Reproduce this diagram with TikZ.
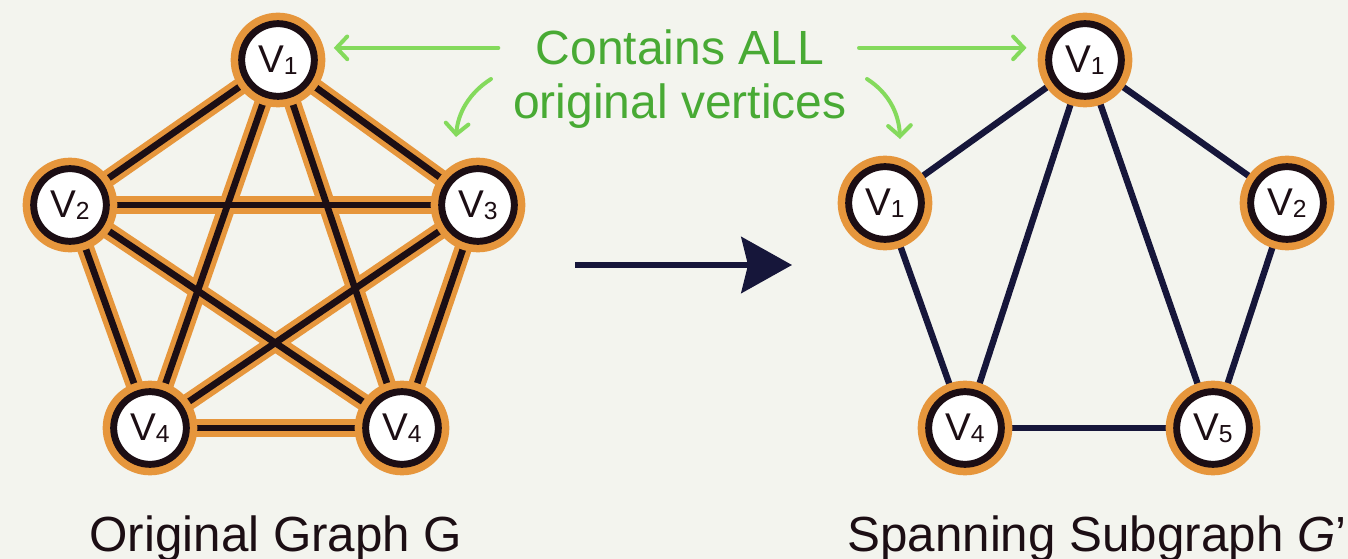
\documentclass[tikz,border=0pt]{standalone}
\usepackage{fontspec}
\setmainfont{Liberation Sans}
\usetikzlibrary{arrows.meta}

\definecolor{paper}{RGB}{243,244,238}
\definecolor{ring}{RGB}{230,150,60}
\definecolor{ink}{RGB}{28,14,20}
\definecolor{navy}{RGB}{22,22,58}
\definecolor{gtext}{RGB}{72,170,52}
\definecolor{garrow}{RGB}{132,218,92}

% vertex label: V with a slightly lowered index
\newcommand{\vlab}[1]{V\kern-0.01em\raisebox{-0.06em}{\fontsize{18.5}{18.5}\selectfont #1}}

\pgfdeclarelayer{back}
\pgfdeclarelayer{edges}
\pgfsetlayers{back,edges,main}

\tikzset{
  vert/.style={circle, minimum size=54.5pt, inner sep=0pt, fill=white,
    draw=ink, line width=5.2pt, preaction={draw=ring, line width=16.5pt},
    font=\fontsize{29}{29}\selectfont, text=ink},
  bandedge/.style={ring, line width=13pt},
  coreedge/.style={ink, line width=5pt},
  subedge/.style={navy, line width=4.8pt},
  garr/.style={garrow, line width=3pt, line cap=round,
    -{Straight Barb[length=8pt,width=17pt,line cap=round]}},
  gtxt/.style={text=gtext, inner sep=0pt, font=\fontsize{36}{36}\selectfont},
  caption/.style={text=ink, inner sep=0pt, font=\fontsize{37}{37}\selectfont},
}

\begin{document}
\begin{tikzpicture}[x=0.75pt,y=-0.75pt]
\begin{pgfonlayer}{back}
  \fill[paper] (0,0) rectangle (1348,559);
\end{pgfonlayer}
\useasboundingbox (0,0) rectangle (1348,559);

% ---- original graph G (complete graph on five vertices)
\node[vert] (a1) at (278,60)  {\vlab{1}};
\node[vert] (a2) at (70,205)  {\vlab{2}};
\node[vert] (a3) at (478,205) {\vlab{3}};
\node[vert] (a4) at (150,428) {\vlab{4}};
\node[vert] (a5) at (402,428) {\vlab{4}};

\begin{pgfonlayer}{edges}
  \foreach \u/\v in {a1/a2,a1/a3,a1/a4,a1/a5,a2/a3,a2/a4,a2/a5,a3/a4,a3/a5,a4/a5}
    \draw[bandedge] (\u.center) -- (\v.center);
  \foreach \u/\v in {a1/a2,a1/a3,a1/a4,a1/a5,a2/a3,a2/a4,a2/a5,a3/a4,a3/a5,a4/a5}
    \draw[coreedge] (\u.center) -- (\v.center);
\end{pgfonlayer}

% ---- spanning subgraph G'
\node[vert] (b1) at (1085,60)  {\vlab{1}};
\node[vert] (b2) at (885,203)  {\vlab{1}};
\node[vert] (b3) at (1287,203) {\vlab{2}};
\node[vert] (b4) at (965,428)  {\vlab{4}};
\node[vert] (b5) at (1213,428) {\vlab{5}};

\begin{pgfonlayer}{edges}
  \foreach \u/\v in {b1/b2,b1/b3,b1/b4,b1/b5,b2/b4,b3/b5,b4/b5}
    \draw[subedge] (\u.center) -- (\v.center);
\end{pgfonlayer}

% ---- transition arrow
\coordinate (ts) at (575,265);
\coordinate (te) at (792,265);
\draw[navy, line width=4.5pt, -{Stealth[length=38pt,width=42pt,inset=5pt]}] (ts) -- (te);

% ---- green annotation
\node[gtxt, anchor=base] (t1) at (680,65)  {Contains ALL};
\node[gtxt, anchor=base] (t2) at (680,119) {original vertices};

\draw[garr, shorten <=28pt, shorten >=12pt] (t1.west) -- (t1.west -| a1.east);
\draw[garr, shorten <=26pt, shorten >=14pt] (t1.east) -- (t1.east -| b1.west);

\coordinate (c1s) at (491,79);
\coordinate (c1e) at (456,137);
\coordinate (c2s) at (867,79);
\coordinate (c2e) at (900,139);
\draw[garr] (c1s) .. controls (469,93) and (458,113) .. (c1e);
\draw[garr] (c2s) .. controls (889,93) and (899,114) .. (c2e);

% ---- captions
\node[caption, anchor=base] (capA) at (276,551) {Original Graph G};
\node[caption, anchor=base] (capB) at (1097,551) {Spanning Subgraph \textit{G}'};
\end{tikzpicture}
\end{document}
